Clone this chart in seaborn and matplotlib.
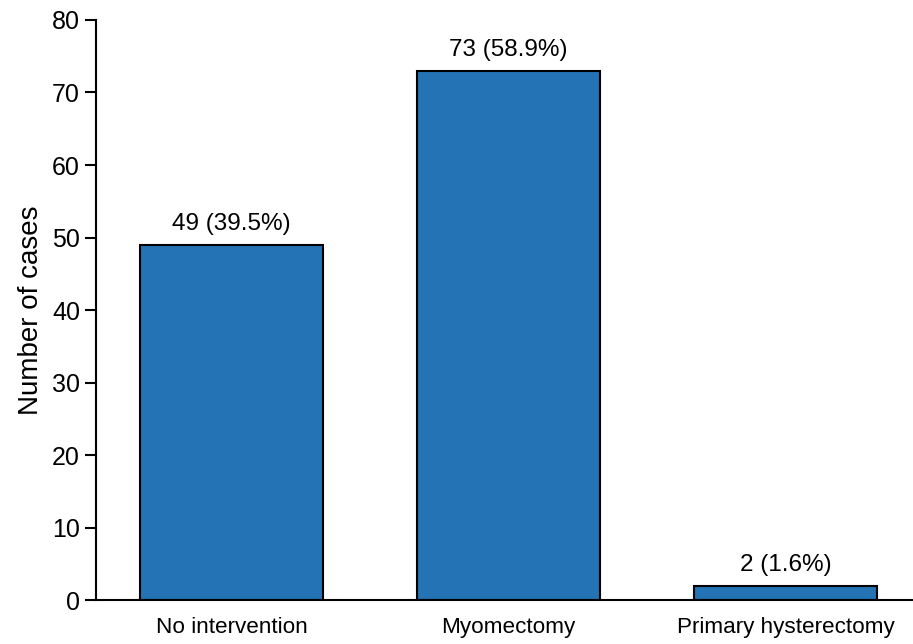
import matplotlib
matplotlib.use("Agg")
import matplotlib.pyplot as plt
import seaborn as sns
import pandas as pd

categories = ["No intervention", "Myomectomy", "Primary hysterectomy"]
counts = [49, 73, 2]
percents = [39.5, 58.9, 1.6]
y_ticks = [0, 10, 20, 30, 40, 50, 60, 70, 80]

df = pd.DataFrame({"group": categories, "cases": counts})

sns.set_style("ticks")
plt.rcParams["font.family"] = ["Liberation Sans", "DejaVu Sans"]
plt.rcParams["text.color"] = "black"
plt.rcParams["axes.labelcolor"] = "black"
plt.rcParams["xtick.color"] = "black"
plt.rcParams["ytick.color"] = "black"
plt.rcParams["axes.edgecolor"] = "black"

fig = plt.figure(figsize=(9.13, 6.44), dpi=100)
ax = fig.add_axes([0.105, 0.068, 0.895, 0.901])

sns.barplot(data=df, x="group", y="cases", color="#2473b5", saturation=1,
            width=0.66, edgecolor="black", linewidth=1.5, ax=ax)

# count (percent) above each bar
for i, (c, p) in enumerate(zip(counts, percents)):
    ax.text(i, c + 1.3, f"{c} ({p}%)", ha="center", va="bottom", fontsize=17.5)

ax.set_ylim(0, 80)
ax.set_xlim(-0.49, 2.46)
ax.set_yticks(y_ticks)
ax.tick_params(axis="y", labelsize=18, length=8, width=1.5)
ax.tick_params(axis="x", labelsize=16.2, length=0, pad=12)
ax.set_xlabel("")
ax.set_ylabel("Number of cases", fontsize=20, labelpad=6)
ax.spines["top"].set_visible(False)
ax.spines["right"].set_visible(False)
ax.spines["left"].set_linewidth(1.5)
ax.spines["bottom"].set_linewidth(1.5)

fig.savefig("out.png", dpi=100)
